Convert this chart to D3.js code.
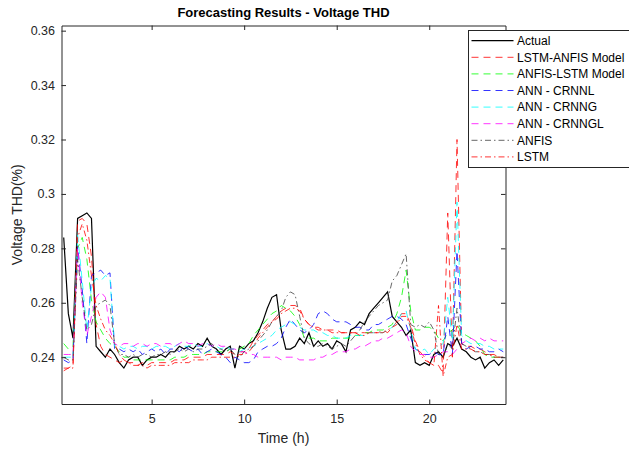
<!DOCTYPE html>
<html>
<head>
<meta charset="utf-8">
<title>Forecasting Results - Voltage THD</title>
<script src="https://cdn.jsdelivr.net/npm/d3@7"></script>
<style>
  body { margin: 0; background: #fff; }
  svg { font-family: "Liberation Sans", Arial, Helvetica, sans-serif; }
</style>
</head>
<body>
<svg id="canvas" width="629" height="451"></svg>
<script>
// time of day (h), 15 min steps
let hours = [
  0.25,0.5,0.75,1,1.25,1.5,1.75,2,2.25,2.5,2.75,3,
  3.25,3.5,3.75,4,4.25,4.5,4.75,5,5.25,5.5,5.75,6,
  6.25,6.5,6.75,7,7.25,7.5,7.75,8,8.25,8.5,8.75,9,
  9.25,9.5,9.75,10,10.25,10.5,10.75,11,11.25,11.5,11.75,12,
  12.25,12.5,12.75,13,13.25,13.5,13.75,14,14.25,14.5,14.75,15,
  15.25,15.5,15.75,16,16.25,16.5,16.75,17,17.25,17.5,17.75,18,
  18.25,18.5,18.75,19,19.25,19.5,19.75,20,20.25,20.5,20.75,21,
  21.25,21.5,21.75,22,22.25,22.5,22.75,23,23.25,23.5,23.75,24
];

let actual = [
  .284,.256,.247,.291,.292,.293,.291,.244,.242,.240,.243,.241,
  .238,.236,.239,.240,.240,.237,.239,.240,.240,.241,.240,.242,
  .242,.244,.243,.244,.243,.245,.244,.247,.244,.243,.241,.243,
  .244,.236,.244,.243,.245,.246,.249,.253,.258,.262,.263,.250,
  .243,.243,.244,.247,.245,.249,.244,.246,.244,.245,.243,.246,
  .245,.242,.250,.251,.253,.252,.256,.258,.260,.262,.264,.255,
  .253,.251,.248,.250,.238,.237,.238,.237,.241,.242,.240,.245,
  .244,.247,.243,.242,.240,.239,.240,.236,.238,.239,.237,.239
];

let lstmAnfis = [
  .236,.236,.237,.290,.291,.289,.277,.252,.244,.241,.240,.239,
  .238,.239,.238,.238,.237,.238,.237,.238,.238,.238,.238,.238,
  .239,.239,.239,.240,.240,.240,.240,.241,.241,.241,.241,.241,
  .242,.241,.242,.242,.243,.246,.248,.250,.252,.253,.255,.257,
  .258,.259,.259,.258,.254,.252,.251,.251,.250,.250,.250,.250,
  .249,.249,.249,.249,.249,.249,.249,.249,.249,.250,.249,.251,
  .253,.256,.256,.252,.246,.242,.240,.238,.237,.237,.234,.293,
  .240,.320,.245,.244,.244,.243,.243,.242,.241,.241,.240,.240
];

let anfisLstm = [
  .245,.243,.244,.280,.284,.276,.261,.253,.250,.247,.245,.244,
  .242,.240,.240,.239,.239,.239,.239,.239,.239,.239,.239,.239,
  .240,.240,.240,.241,.241,.241,.241,.242,.242,.242,.242,.242,
  .243,.243,.243,.244,.245,.248,.250,.252,.254,.256,.257,.259,
  .258,.257,.255,.252,.247,.247,.247,.246,.246,.246,.247,.247,
  .247,.247,.247,.248,.248,.249,.249,.250,.250,.250,.251,.252,
  .256,.262,.272,.257,.250,.250,.251,.251,.250,.247,.246,.249,
  .250,.252,.249,.248,.247,.246,.244,.241,.240,.240,.240,.240
];

let crnnl = [
  .239,.238,.239,.281,.265,.245,.270,.271,.272,.270,.271,.243,
  .243,.242,.243,.242,.243,.241,.242,.243,.242,.243,.241,.243,
  .243,.242,.244,.243,.242,.243,.241,.242,.243,.242,.241,.240,
  .238,.240,.239,.238,.238,.239,.242,.243,.244,.244,.245,.247,
  .251,.254,.252,.250,.249,.250,.252,.256,.257,.256,.254,.253,
  .253,.253,.252,.251,.251,.250,.250,.252,.252,.253,.254,.255,
  .255,.254,.252,.247,.243,.242,.241,.241,.242,.241,.241,.255,
  .241,.279,.245,.243,.244,.244,.243,.243,.242,.242,.243,.242
];

let crnng = [
  .240,.240,.240,.285,.268,.250,.266,.269,.268,.270,.269,.244,
  .244,.243,.244,.244,.243,.244,.244,.243,.244,.244,.244,.243,
  .244,.245,.244,.244,.245,.244,.244,.245,.244,.244,.243,.244,
  .243,.243,.242,.243,.243,.244,.245,.246,.247,.248,.250,.251,
  .252,.253,.252,.251,.250,.250,.250,.249,.249,.248,.248,.247,
  .247,.247,.248,.248,.248,.248,.249,.249,.249,.249,.250,.251,
  .253,.256,.257,.250,.243,.242,.243,.241,.243,.244,.245,.262,
  .246,.297,.248,.246,.245,.245,.245,.244,.244,.243,.243,.243
];

let crnngl = [
  .241,.241,.241,.280,.260,.248,.255,.262,.264,.262,.250,.245,
  .244,.245,.245,.244,.245,.245,.244,.245,.245,.244,.245,.245,
  .244,.245,.246,.245,.245,.244,.245,.245,.244,.245,.244,.244,
  .243,.243,.242,.242,.241,.241,.240,.240,.240,.240,.240,.239,
  .240,.240,.240,.239,.239,.239,.239,.240,.240,.241,.241,.242,
  .242,.242,.243,.243,.244,.244,.245,.246,.246,.247,.247,.248,
  .249,.250,.249,.244,.242,.241,.241,.240,.240,.241,.242,.242,
  .241,.243,.245,.246,.247,.246,.247,.246,.247,.246,.246,.246
];

let anfis = [
  .240,.239,.239,.276,.262,.250,.252,.259,.260,.261,.259,.245,
  .241,.241,.240,.241,.240,.241,.241,.240,.241,.241,.242,.241,
  .242,.243,.242,.243,.242,.243,.243,.244,.245,.243,.243,.242,
  .243,.241,.240,.242,.243,.244,.246,.248,.250,.253,.255,.257,
  .262,.264,.263,.255,.247,.245,.244,.244,.245,.244,.243,.244,
  .245,.244,.246,.248,.250,.253,.255,.257,.259,.260,.261,.268,
  .270,.274,.278,.252,.251,.252,.251,.253,.250,.241,.240,.245,
  .243,.258,.245,.244,.243,.242,.242,.241,.241,.240,.240,.240
];

let lstm = [
  .235,.236,.236,.284,.289,.283,.270,.259,.254,.250,.248,.245,
  .241,.239,.238,.237,.237,.237,.236,.237,.237,.237,.237,.237,
  .238,.238,.238,.238,.239,.239,.239,.239,.240,.240,.240,.240,
  .240,.240,.241,.241,.242,.244,.247,.249,.251,.253,.254,.256,
  .257,.258,.258,.257,.254,.252,.251,.250,.250,.250,.249,.249,
  .249,.249,.249,.249,.248,.248,.249,.249,.249,.249,.250,.251,
  .252,.255,.255,.251,.245,.241,.239,.238,.237,.259,.233,.240,
  .241,.252,.243,.243,.243,.242,.242,.241,.241,.240,.240,.240
];

let seriesNames = ['Actual', 'LSTM-ANFIS Model', 'ANFIS-LSTM Model', 'ANN - CRNNL',
                   'ANN - CRNNG', 'ANN - CRNNGL', 'ANFIS', 'LSTM'];
let seriesValues = [actual, lstmAnfis, anfisLstm, crnnl, crnng, crnngl, anfis, lstm];

let xTicks = [5, 10, 15, 20];
let yTicks = [0.24, 0.26, 0.28, 0.3, 0.32, 0.34, 0.36];

// styles, same order as the series
let colors = ['#000000', '#ff0000', '#00ff00', '#0000ff', '#00ffff', '#ff00ff', '#404040', '#ff0000'];
let dashes = [null, '7,5', '7,5', '7,5', '7,5', '7,5', '6,3,1.5,3', '6,3,1.5,3'];
let widths = [1.2, 0.8, 0.8, 0.8, 0.8, 0.8, 0.8, 0.8];

let canvas = d3.select('#canvas');
let axisColor = '#262626';

let plotLeft = 61.5, plotRight = 505.5, plotTop = 25.5, plotBottom = 404;

let xScale = d3.scaleLinear().domain([0.13, 24.12]).range([plotLeft, plotRight]);
let yScale = d3.scaleLinear().domain([0.2228, 0.3619]).range([plotBottom, plotTop]);

canvas.append('defs').append('clipPath')
    .attr('id', 'plotclip')
    .append('rect')
    .attr('x', plotLeft).attr('y', plotTop)
    .attr('width', plotRight - plotLeft).attr('height', plotBottom - plotTop);

// lines
let line = d3.line()
    .x((d, i) => xScale(hours[i]))
    .y(d => yScale(d));

let plot = canvas.append('g').attr('clip-path', 'url(#plotclip)');

plot.selectAll('path')
    .data(seriesValues)
    .enter()
    .append('path')
    .attr('d', d => line(d))
    .attr('fill', 'none')
    .attr('stroke', (d, i) => colors[i])
    .attr('stroke-width', (d, i) => widths[i])
    .attr('stroke-dasharray', (d, i) => dashes[i]);

// axes, ticks pointing inward on all four sides
let styleAxis = (g) => {
    g.selectAll('.domain').attr('stroke', axisColor).attr('stroke-width', 1);
    g.selectAll('.tick line').attr('stroke', axisColor).attr('stroke-width', 1);
    g.selectAll('.tick text').attr('fill', axisColor).style('font-size', '12.5px')
        .style('font-family', '"Liberation Sans", Arial, sans-serif');
};

canvas.append('g')
    .attr('transform', 'translate(0,' + plotBottom + ')')
    .call(d3.axisBottom(xScale).tickValues(xTicks).tickSizeInner(-4.5).tickSizeOuter(0).tickPadding(10.5))
    .call(styleAxis);

canvas.append('g')
    .attr('transform', 'translate(0,' + plotTop + ')')
    .call(d3.axisTop(xScale).tickValues(xTicks).tickSizeInner(-4.5).tickSizeOuter(0).tickFormat(''))
    .call(styleAxis);

canvas.append('g')
    .attr('transform', 'translate(' + plotLeft + ',0)')
    .call(d3.axisLeft(yScale).tickValues(yTicks).tickSizeInner(-4.5).tickSizeOuter(0).tickPadding(6.5)
        .tickFormat(d3.format('~g')))
    .call(styleAxis);

canvas.append('g')
    .attr('transform', 'translate(' + plotRight + ',0)')
    .call(d3.axisRight(yScale).tickValues(yTicks).tickSizeInner(-4.5).tickSizeOuter(0).tickFormat(''))
    .call(styleAxis);

// title and labels
canvas.append('text')
    .attr('x', (plotLeft + plotRight) / 2)
    .attr('y', 17)
    .attr('text-anchor', 'middle')
    .attr('font-weight', 'bold')
    .attr('font-size', '13px')
    .attr('fill', '#000')
    .text('Forecasting Results - Voltage THD');

canvas.append('text')
    .attr('x', (plotLeft + plotRight) / 2)
    .attr('y', 443)
    .attr('text-anchor', 'middle')
    .attr('font-size', '14px')
    .attr('fill', axisColor)
    .text('Time (h)');

canvas.append('text')
    .attr('transform', 'translate(22,' + ((plotTop + plotBottom) / 2) + ') rotate(-90)')
    .attr('text-anchor', 'middle')
    .attr('font-size', '14px')
    .attr('fill', axisColor)
    .text('Voltage THD(%)');

// legend
let legend = canvas.append('g').attr('transform', 'translate(468.5,30.5)');

legend.append('rect')
    .attr('width', 200)
    .attr('height', 137)
    .attr('fill', '#fff')
    .attr('stroke', axisColor)
    .attr('stroke-width', 1);

let rows = legend.selectAll('g.row')
    .data(seriesNames)
    .enter()
    .append('g')
    .attr('class', 'row')
    .attr('transform', (d, i) => 'translate(0,' + (10.2 + i * 16.6) + ')');

rows.append('line')
    .attr('x1', 3).attr('x2', 45)
    .attr('stroke', (d, i) => colors[i])
    .attr('stroke-width', (d, i) => widths[i])
    .attr('stroke-dasharray', (d, i) => dashes[i]);

rows.append('text')
    .attr('x', 48.5)
    .attr('dy', '0.35em')
    .attr('font-size', '12px')
    .attr('fill', '#000')
    .text(d => d);
</script>
</body>
</html>
